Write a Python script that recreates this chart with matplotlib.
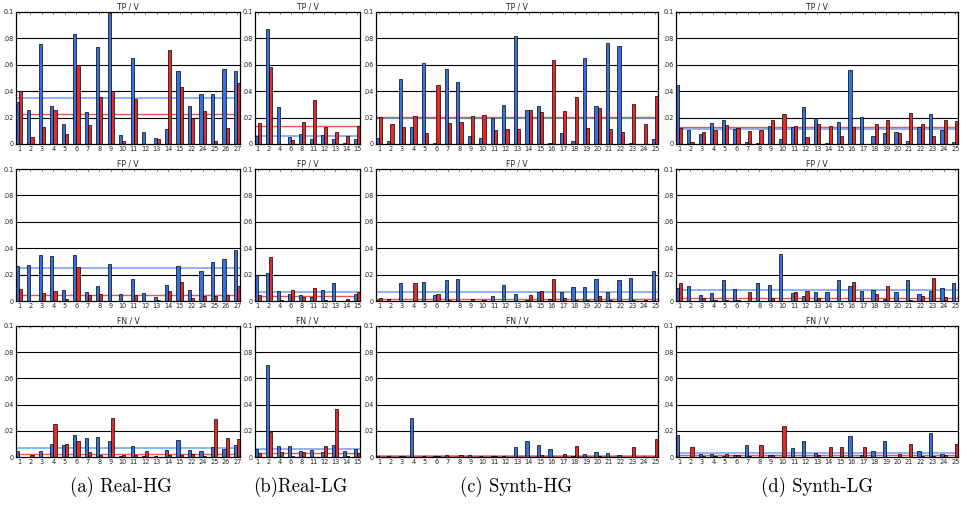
import numpy as np
import matplotlib
matplotlib.use("Agg")
import matplotlib.pyplot as plt

# categories per column
cats_real_hg = [1, 2, 3, 4, 5, 6, 7, 8, 9, 10, 11, 12, 13, 14, 15, 22, 24, 25, 26, 27]
cats_real_lg = [1, 2, 4, 6, 8, 11, 12, 13, 14, 15]
cats_synth_hg = list(range(1, 26))
cats_synth_lg = list(range(1, 26))

# ---- TP / V ----
tp_real_hg_b = [.0316, .0258, .076, .029, .015, .083, .024, .0737, .0995, .0068, .065, .009, .0043, .011, .055, .029, .038, .038, .057, .0556]
tp_real_hg_r = [.040, .005, .013, .0255, .0073, .0596, .0146, .0354, .040, .002, .034, 0, .0035, .071, .043, .020, .025, .0025, .012, .0465]
tp_real_lg_b = [.006, .087, .0278, .0053, .0073, .004, .007, .0035, .001, .0035]
tp_real_lg_r = [.0157, .0586, 0, .0028, .0167, .0336, .0131, .0088, .006, .0139]
tp_synth_hg_b = [.0045, .0025, .049, .0125, .061, .001, .057, .047, .0058, .0043, .020, .0295, .0815,
                 .026, .029, .001, .0085, .002, .0655, .029, .0765, .0745, .001, 0, .0035]
tp_synth_hg_r = [.0207, .0155, .0125, .0215, .008, .0445, .016, .0163, .0213, .0222, .0105, .011, .011,
                 .026, .024, .0635, .025, .0355, .012, .0275, .011, .0088, .030, .0148, .0367]
tp_synth_lg_b = [.0445, .0105, .0078, .016, .0185, .011, .0015, .001, .014, .0035, .0125, .028, .0195,
                 .0005, .017, .0558, .0208, .006, .0085, .0088, .0022, .0125, .023, .0103, .0018]
tp_synth_lg_r = [.012, .0018, .009, .0105, .0145, .0118, .010, .0105, .0185, .0225, .014, .0055, .015,
                 .0133, .0063, .0125, 0, .0155, .0185, .008, .0238, .0148, .0063, .018, .0175]

# ---- FP / V ----
fp_real_hg_b = [.0265, .0273, .0347, .034, .0084, .035, .007, .011, .0278, .0053, .0165, .0058, .0033, .0122, .0268, .0084, .0228, .0299, .0321, .039]
fp_real_hg_r = [.0094, 0, .0058, .0078, .0015, .0256, .0048, .0056, 0, 0, .0048, 0, .001, .0076, .0147, .0025, .0038, .004, .0048, .011]
fp_real_lg_b = [.0198, .021, .0076, .0056, .0043, .0033, .0084, .0139, 0, .0053]
fp_real_lg_r = [.0046, .033, .0008, .0081, .0033, .0099, .0008, 0, .0015, .0068]
fp_synth_hg_b = [.0005, .0015, .0133, 0, .0145, .0045, .016, .017, 0, 0, .0035, .0122, .0053,
                 .001, .0068, .0015, .0068, .0105, .0108, .017, .0068, .016, .0173, 0, .023]
fp_synth_hg_r = [.0023, 0, 0, .0138, 0, .005, .001, 0, .0015, .0008, 0, 0, 0,
                 .0048, .0075, .017, .0023, .001, .001, .0038, .0005, 0, .001, .0008, 0]
fp_synth_lg_b = [.0098, .0115, .0045, .006, .016, .0093, 0, .0133, .0123, .0355, .006, .004, .007,
                 .0068, .0162, .0113, .0078, .0085, .0015, .007, .016, .005, .0078, .0095, .014]
fp_synth_lg_r = [.014, 0, .0025, .001, .0005, .001, .007, 0, .002, 0, .0068, .0078, .0025,
                 0, 0, .0145, 0, .0055, .0113, 0, .0005, .004, .0172, .003, 0]

# ---- FN / V ----
fn_real_hg_b = [.0046, 0, .0048, .0096, .009, .0167, .0145, .0152, .012, .0008, .0084, .001, .001, .0056, .0127, .0053, .0046, .0074, .0063, .009]
fn_real_hg_r = [0, .0015, 0, .025, .0096, .012, .0036, .0018, .030, .0015, .0013, .0046, 0, .0015, .0015, .002, .0008, .029, .0147, .014]
fn_real_lg_b = [.006, .0705, .0084, .0081, .0046, .0053, .0036, .0091, .0046, .006]
fn_real_lg_r = [.003, .019, .0036, .0008, .0038, 0, .0081, .0365, .0005, .0028]
fn_synth_hg_b = [.0005, .0005, .001, .0298, .0005, .001, .0015, .0003, .0018, .0005, .001, .0005, .0077,
                 .0123, .0095, .006, .0003, .0005, .002, .0038, .003, .0015, 0, .0003, 0]
fn_synth_hg_r = [0, .0003, .0008, 0, 0, .0005, 0, .0018, 0, 0, .0005, .0003, 0,
                 0, .0015, 0, .002, .0083, 0, .0005, 0, 0, .0078, 0, .0138]
fn_synth_lg_b = [.017, 0, .0025, .0023, .0005, .0013, .009, 0, .0018, 0, .0068, .012, .0028,
                 0, 0, .016, .0013, .0045, .0122, 0, 0, .0045, .0183, .0025, 0]
fn_synth_lg_r = [0, .008, .0008, .001, .0025, .0018, .0005, .0088, .0013, .0237, 0, 0, .0013,
                 .0078, .0078, 0, .0078, 0, 0, .0025, .01, .0008, .0005, .0015, .0098]

# mean lines (blue, red), rows TP, FP, FN
mean_real_hg = [(.035, .0225), (.0248, .0048), (.0069, .0023)]
mean_real_lg = [(.0058, .0136), (.0068, .0038), (.006, .003)]
mean_synth_hg = [(.0198, .0207), (.007, .0015), (.0008, .0006)]
mean_synth_lg = [(.011, .0125), (.0086, .002), (.0028, .0018)]

row_titles = ["TP / V", "FP / V", "FN / V"]
captions = ["(a) Real-HG", "(b)Real-LG", "(c) Synth-HG", "(d) Synth-LG"]

columns = [
    (cats_real_hg, [(tp_real_hg_b, tp_real_hg_r), (fp_real_hg_b, fp_real_hg_r), (fn_real_hg_b, fn_real_hg_r)], mean_real_hg),
    (cats_real_lg, [(tp_real_lg_b, tp_real_lg_r), (fp_real_lg_b, fp_real_lg_r), (fn_real_lg_b, fn_real_lg_r)], mean_real_lg),
    (cats_synth_hg, [(tp_synth_hg_b, tp_synth_hg_r), (fp_synth_hg_b, fp_synth_hg_r), (fn_synth_hg_b, fn_synth_hg_r)], mean_synth_hg),
    (cats_synth_lg, [(tp_synth_lg_b, tp_synth_lg_r), (fp_synth_lg_b, fp_synth_lg_r), (fn_synth_lg_b, fn_synth_lg_r)], mean_synth_lg),
]

W, H = 974, 508
col_px = [(16, 240), (255, 360), (376, 658), (676, 958)]
row_px = [(12, 144), (169, 301), (326, 457)]
cap_x = [121, 300, 516, 817]

blue = '#3571d9'
red = '#e42a2a'
blue_mean = '#7aa6f2'
red_mean = '#f05454'

fig = plt.figure(figsize=(W / 100, H / 100), dpi=100)

for c, (cats, rows, means) in enumerate(columns):
    n = len(cats)
    x = np.arange(1, n + 1)
    w = 0.28
    for r in range(3):
        x0, x1 = col_px[c]
        y0, y1 = row_px[r]
        ax = fig.add_axes([x0 / W, 1 - y1 / H, (x1 - x0) / W, (y1 - y0) / H])
        vb, vr = rows[r]
        mb, mr = means[r]
        for g in [.02, .04, .06, .08]:
            ax.axhline(g, color='black', lw=0.8, zorder=0)
        ax.axhline(mb, color=blue_mean, lw=1.2, zorder=1)
        ax.axhline(mr, color=red_mean, lw=1.0, zorder=1)
        ax.bar(x - w / 2, vb, w, color=blue, edgecolor='black', lw=0.5, zorder=2)
        ax.bar(x + w / 2, vr, w, color=red, edgecolor='black', lw=0.5, zorder=2)
        ax.set_xlim(0.75, n + 0.25)
        ax.set_ylim(0, 0.1)
        ax.set_xticks(x)
        ax.set_xticklabels([str(k) for k in cats])
        ax.set_yticks([0, .02, .04, .06, .08, .1])
        ax.set_yticklabels(['0', '.02', '.04', '.06', '.08', '0.1'])
        ax.tick_params(direction='in', top=True, length=1.5, width=0.5,
                       labelsize=4.7, pad=1.5, colors='#222222')
        for s in ax.spines.values():
            s.set_linewidth(0.9)
        ax.set_title(row_titles[r], fontsize=5.5, pad=1.5, color='#222222')
    fig.text(cap_x[c] / W, 1 - 487 / H, captions[c], ha='center', va='center',
             fontsize=13.5, family='cmr10')

fig.savefig('out.png', dpi=100)
